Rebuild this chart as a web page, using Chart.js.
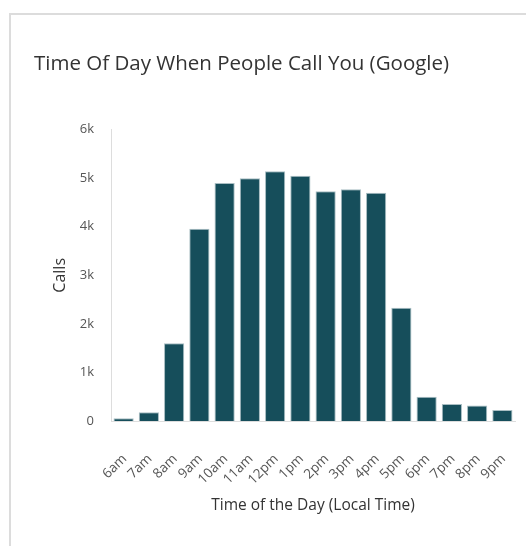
<!DOCTYPE html>
<html>
<head>
<meta charset="utf-8">
<script src="https://cdn.jsdelivr.net/npm/chart.js@4"></script>
<style>
  html, body { margin: 0; padding: 0; background: #fff; }
  .card {
    position: absolute; left: 9px; top: 13px; right: -10px; bottom: -10px;
    border-left: 2px solid #dcdcdc; border-top: 2px solid #dcdcdc;
  }
  .wrap { position: absolute; left: 0; top: 0; width: 526px; height: 546px; }
</style>
</head>
<body>
<div class="card"></div>
<div class="wrap"><canvas id="callsChart"></canvas></div>
<script>
// hours of the day (local time)
const hours = ["6am", "7am", "8am", "9am", "10am", "11am", "12pm", "1pm",
  "2pm", "3pm", "4pm", "5pm", "6pm", "7pm", "8pm", "9pm"];
// number of calls per hour
const calls = [55, 180, 1600, 3960, 4900, 5000, 5140, 5050,
  4730, 4770, 4700, 2330, 500, 350, 320, 225];
const yTicks = [0, 1000, 2000, 3000, 4000, 5000, 6000];

document.addEventListener("DOMContentLoaded", () => {
  Chart.defaults.font.family = "'Open Sans', sans-serif";

  const ctx = document.getElementById("callsChart").getContext("2d");
  new Chart(ctx, {
    type: "bar",
    data: {
      labels: hours,
      datasets: [{
        label: "Calls",
        data: calls,
        backgroundColor: "#164e5b",
        borderColor: "#a9bec3",
        borderWidth: 1,
        barPercentage: 0.8,
        categoryPercentage: 1
      }]
    },
    options: {
      responsive: true,
      maintainAspectRatio: false,
      animation: false,
      layout: { padding: { left: 34, right: 11, top: 20, bottom: 0 } },
      scales: {
        x: {
          // fixed axis height, and don't let the rotated labels squeeze the plot
          afterFit: (scale) => {
            scale.height = 125;
            scale.paddingLeft = 0;
            scale.paddingRight = 0;
          },
          grid: { display: false, drawTicks: false },
          border: { display: true, color: "#dddddd", width: 1 },
          ticks: {
            color: "#555",
            font: { size: 13.5 },
            maxRotation: 45,
            minRotation: 45,
            autoSkip: false,
            padding: 30,
            labelOffset: 1
          },
          title: {
            display: true,
            text: "Time of the Day (Local Time)",
            color: "#333",
            font: { size: 15.5 },
            padding: { top: 10, bottom: 31 }
          }
        },
        y: {
          min: 0,
          max: 6000,
          afterBuildTicks: (scale) => {
            scale.ticks = yTicks.map((v) => ({ value: v }));
          },
          afterFit: (scale) => { scale.width = 77; },
          grid: { display: false, drawTicks: false },
          border: { display: true, color: "#dddddd", width: 1 },
          ticks: {
            color: "#555",
            font: { size: 13 },
            padding: 17,
            callback: (v) => (v === 0 ? "0" : v / 1000 + "k")
          },
          title: {
            display: true,
            text: "Calls",
            color: "#333",
            font: { size: 16 },
            padding: { top: 17, bottom: 4 }
          }
        }
      },
      plugins: {
        legend: { display: false },
        tooltip: { enabled: false },
        title: {
          display: true,
          text: "Time Of Day When People Call You (Google)",
          align: "start",
          color: "#333",
          font: { size: 20.5, weight: "normal" },
          padding: { top: 32, bottom: 53 }
        }
      }
    }
  });
});
</script>
</body>
</html>
